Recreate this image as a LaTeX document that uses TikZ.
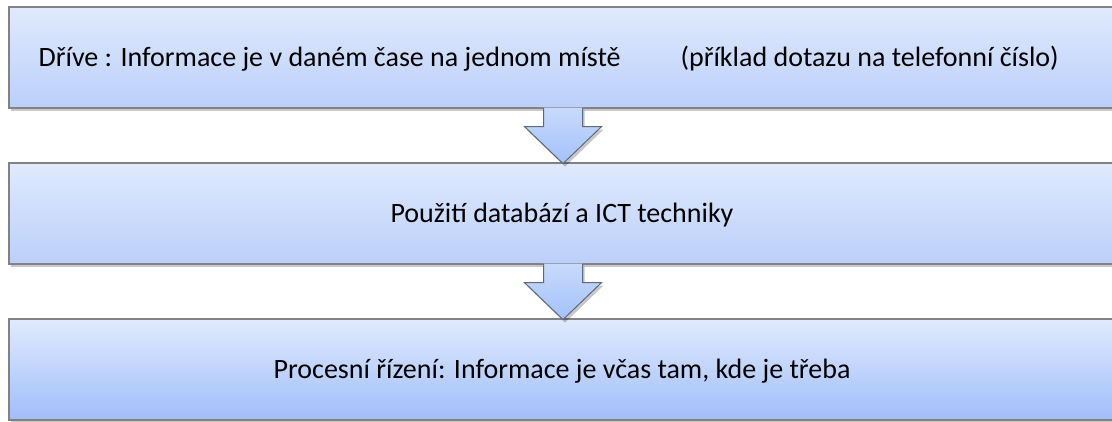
\documentclass[tikz,border=0pt]{standalone}
\usepackage{fontspec}
\setmainfont{Carlito}
\usetikzlibrary{shadows,calc}
\definecolor{boxtop}{RGB}{224,234,253}
\definecolor{boxbot}{RGB}{186,207,250}
\definecolor{boxbotdark}{RGB}{160,190,250}
\definecolor{edgegray}{RGB}{130,130,132}
\definecolor{arrowtop}{RGB}{200,218,252}
\definecolor{arrowbot}{RGB}{163,193,250}
\definecolor{arrowedge}{RGB}{95,105,125}
\tikzset{
  flowbox/.style={draw=edgegray, line width=1.2pt, top color=boxtop, bottom color=boxbot,
    minimum height=101pt, minimum width=1106pt, inner sep=0pt, text height=18pt, text depth=0pt,
    font=\fontsize{28}{34}\selectfont,
    drop shadow={shadow xshift=2pt, shadow yshift=-3pt, opacity=0.3, fill=black!70}},
  labeltext/.style={inner sep=0pt, font=\fontsize{28}{34}\selectfont},
  arrowshadow/.style={fill=black, opacity=0.22},
  arrowbody/.style={top color=arrowtop, bottom color=arrowbot},
  arrowline/.style={draw=arrowedge, line width=1pt, line join=miter}
}
\newcommand\flowarrow[1]{%
  \begin{scope}[shift={(#1)}]
    \fill[arrowshadow] (-17.5,2) -- (-17.5,21) -- (-36.5,21) -- (2,58) -- (40.5,21) -- (21.5,21) -- (21.5,2) -- cycle;
    \shade[arrowbody] (-19.5,-1) -- (-19.5,18) -- (-38.5,18) -- (0,55) -- (38.5,18) -- (19.5,18) -- (19.5,-1) -- cycle;
    \draw[arrowline] (-19.5,-0.6) -- (-19.5,18) -- (-38.5,18) -- (0,55) -- (38.5,18) -- (19.5,18) -- (19.5,-0.6);
  \end{scope}}
\begin{document}
\begin{tikzpicture}[x=1pt,y=-1pt]
  \useasboundingbox (0,0) rectangle (1112,421);
  \fill[white] (0,0) rectangle (1112,421);
  \clip (0,0) rectangle (1112,421);
  \node[flowbox] (b1) at (562,57.5) {};
  \node[labeltext, anchor=base west] (l1) at ($(b1.west)+(30,9)$)
    {Dříve : Informace je v daném čase na jednom místě\hspace{60pt}(příklad dotazu na telefonní číslo)};
  \node[flowbox] (b2) at (562,213.5) {Použití databází a ICT techniky};
  \node[flowbox, bottom color=boxbotdark] (b3) at (562,369.5)
    {Procesní řízení: Informace je včas tam, kde je třeba};
  \coordinate (axis) at (563,0);
  \coordinate (t1) at (b1.south -| axis);
  \coordinate (t2) at (b2.south -| axis);
  \flowarrow{t1}
  \flowarrow{t2}
\end{tikzpicture}
\end{document}
